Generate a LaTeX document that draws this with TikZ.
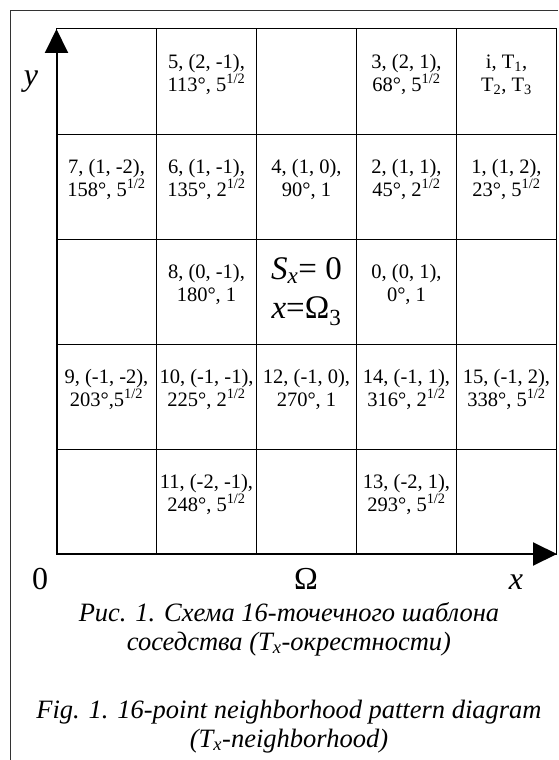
\documentclass[tikz,border=0pt]{standalone}
\usepackage{fontspec}
\setmainfont{Liberation Serif}
\usetikzlibrary{arrows.meta}

\newcommand{\sqrtfive}{5\textsuperscript{1/2}}
\newcommand{\sqrttwo}{2\textsuperscript{1/2}}

\begin{document}
\begin{tikzpicture}[x=1pt, y=-1pt,
  box/.style={draw, line width=1pt, minimum width=100pt, minimum height=105pt,
              inner sep=0pt, align=center},
  cell/.style={box, text depth=17pt, font=\fontsize{20.5}{22.5}\selectfont},
  centre/.style={box, font=\fontsize{33}{39}\selectfont},
  axis/.style={line width=2pt, -{Triangle[length=24pt, width=23pt]}},
  axlabel/.style={font=\fontsize{32}{32}\selectfont, anchor=base},
  captext/.style={font=\fontsize{26.5}{29}\selectfont\itshape, align=center, anchor=base},
  frame/.style={line width=1pt, black!80},
]
\useasboundingbox (0,0) rectangle (558,760);

% frame (only left and top edges are visible)
\coordinate (fbot) at (10,760);
\coordinate (fright) at (558,11);
\draw[frame] (fbot) |- (fright);

% row 1
\node[box]  (e11) at (106.5,81.5) {};
\node[cell] (c5)  at (206.5,81.5) {5, (2, -1),\\113°, \sqrtfive};
\node[box]  (e13) at (306.5,81.5) {};
\node[cell] (c3)  at (406.5,81.5) {3, (2, 1),\\68°, \sqrtfive};
\node[cell] (ci)  at (506.5,81.5) {i, T\textsubscript{1},\\T\textsubscript{2}, T\textsubscript{3}};
% row 2
\node[cell] (c7)  at (106.5,186.5) {7, (1, -2),\\158°, \sqrtfive};
\node[cell] (c6)  at (206.5,186.5) {6, (1, -1),\\135°, \sqrttwo};
\node[cell] (c4)  at (306.5,186.5) {4, (1, 0),\\90°, 1};
\node[cell] (c2)  at (406.5,186.5) {2, (1, 1),\\45°, \sqrttwo};
\node[cell] (c1)  at (506.5,186.5) {1, (1, 2),\\23°, \sqrtfive};
% row 3
\node[box]  (e31) at (106.5,291.5) {};
\node[cell] (c8)  at (206.5,291.5) {8, (0, -1),\\180°, 1};
\node[centre] (cs) at (306.5,291.5) {\textit{S}\textsubscript{\textit{x}}= 0\\\textit{x}=Ω\textsubscript{3}};
\node[cell] (c0)  at (406.5,291.5) {0, (0, 1),\\0°, 1};
\node[box]  (e35) at (506.5,291.5) {};
% row 4
\node[cell] (c9)  at (106.5,396.5) {9, (-1, -2),\\203°,\sqrtfive};
\node[cell] (c10) at (206.5,396.5) {10, (-1, -1),\\225°, \sqrttwo};
\node[cell] (c12) at (306.5,396.5) {12, (-1, 0),\\270°, 1};
\node[cell] (c14) at (406.5,396.5) {14, (-1, 1),\\316°, \sqrttwo};
\node[cell] (c15) at (506.5,396.5) {15, (-1, 2),\\338°, \sqrtfive};
% row 5
\node[box]  (e51) at (106.5,501.5) {};
\node[cell] (c11) at (206.5,501.5) {11, (-2, -1),\\248°, \sqrtfive};
\node[box]  (e53) at (306.5,501.5) {};
\node[cell] (c13) at (406.5,501.5) {13, (-2, 1),\\293°, \sqrtfive};
\node[box]  (e55) at (506.5,501.5) {};

% axes
\coordinate (O) at (56.5,554);
\coordinate (ytip) at (56.5,29);
\coordinate (xtip) at (557,554);
\draw[axis] (O) -- (ytip);
\draw[axis] (O) -- (xtip);

\node[axlabel] (ylbl) at (31,85) {\textit{y}};
\node[axlabel] (zero) at (40,589) {0};
\node[axlabel] (omega) at (306,589) {Ω};
\node[axlabel] (xlbl) at (516,589) {\textit{x}};

% captions (base = baseline of the last line)
\node[captext] (capru) at (289,650) {Рис. 1. Схема 16-точечного шаблона\\соседства (T\textsubscript{x}-окрестности)};
\node[captext] (capen) at (289,747) {Fig. 1. 16-point neighborhood pattern diagram\\(T\textsubscript{x}-neighborhood)};

\end{tikzpicture}
\end{document}
